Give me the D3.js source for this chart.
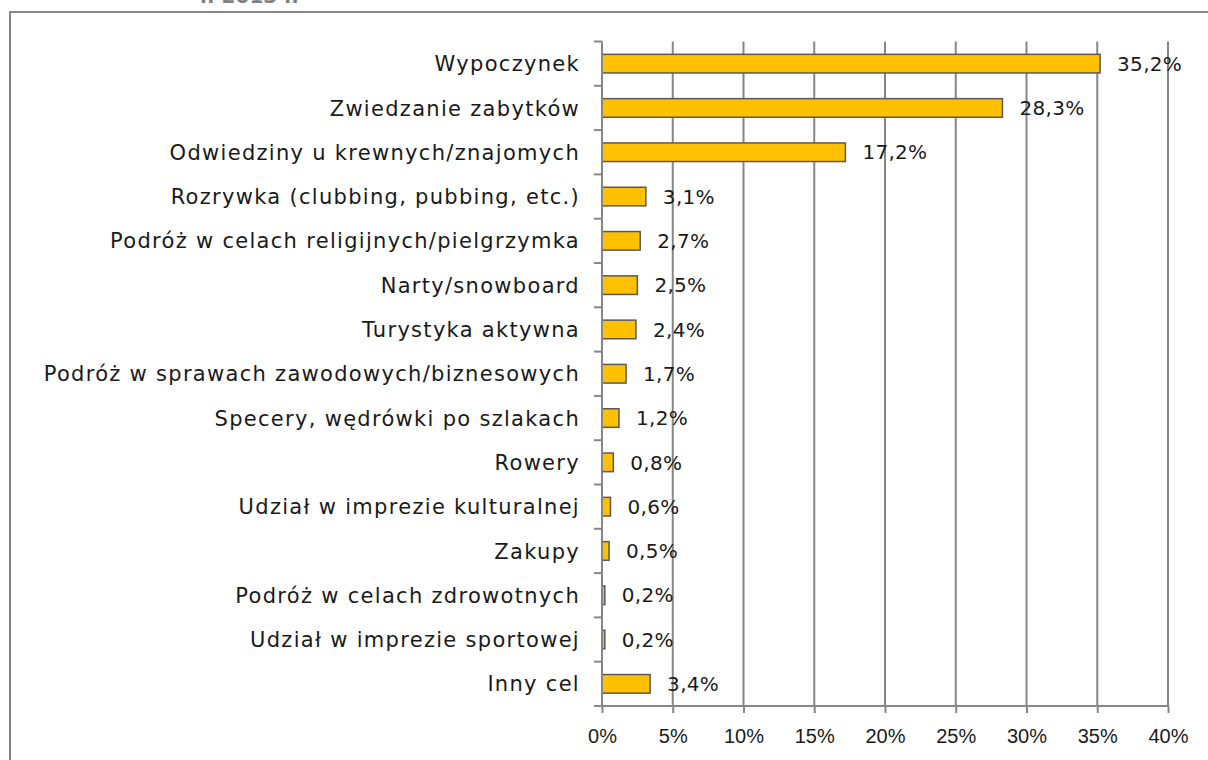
<!DOCTYPE html>
<html>
<head>
<meta charset="utf-8">
<script src="https://cdn.jsdelivr.net/npm/d3@7"></script>
<style>
    body { margin: 0; background: #fff; }
    svg { display: block; font-family: 'DejaVu Sans', sans-serif; }
    .axis path, .axis line { stroke: #868686; stroke-width: 2; }
    .axis text { fill: #1a1a1a; font-size: 20px; }
</style>
</head>
<body>
<div id="chart"></div>
<script>
// Cele przyjazdów — poziomy wykres słupkowy
const CATEGORIES = [
    'Wypoczynek',
    'Zwiedzanie zabytków',
    'Odwiedziny u krewnych/znajomych',
    'Rozrywka (clubbing, pubbing, etc.)',
    'Podróż w celach religijnych/pielgrzymka',
    'Narty/snowboard',
    'Turystyka aktywna',
    'Podróż w sprawach zawodowych/biznesowych',
    'Specery, wędrówki po szlakach',
    'Rowery',
    'Udział w imprezie kulturalnej',
    'Zakupy',
    'Podróż w celach zdrowotnych',
    'Udział w imprezie sportowej',
    'Inny cel'
];
const VALUES = [35.2, 28.3, 17.2, 3.1, 2.7, 2.5, 2.4, 1.7, 1.2, 0.8, 0.6, 0.5, 0.2, 0.2, 3.4];
const X_TICKS = [0, 5, 10, 15, 20, 25, 30, 35, 40];

(function () {
    const W = 1208, H = 760;
    const left = 602, right = 1168, top = 41.5, bottom = 706;

    const svg = d3.select('#chart').append('svg').attr('width', W).attr('height', H);

    // outer frame (cut by the picture edges)
    svg.append('rect').attr('x', 10).attr('y', 12).attr('width', W + 20).attr('height', H + 20)
        .attr('fill', 'none').attr('stroke', '#868686').attr('stroke-width', 2);

    // cut-off title above the frame
    svg.append('text').attr('x', 200).attr('y', 3).attr('font-size', 20).attr('font-weight', 'bold')
        .attr('fill', '#7f7f7f').text('r. 2013 r.');

    const x = d3.scaleLinear().domain([0, 40]).range([left, right]);
    const y = d3.scaleBand().domain(CATEGORIES).range([top, bottom]).paddingInner(0.58).paddingOuter(0.29);

    // vertical gridlines
    svg.append('g').selectAll('line').data(X_TICKS.slice(1)).enter().append('line')
        .attr('x1', d => x(d)).attr('x2', d => x(d))
        .attr('y1', top).attr('y2', bottom)
        .attr('stroke', '#868686').attr('stroke-width', 2);

    // bars
    const data = CATEGORIES.map((c, i) => ({ cat: c, val: VALUES[i] }));
    svg.append('g').selectAll('rect').data(data).enter().append('rect')
        .attr('x', x(0))
        .attr('y', d => y(d.cat))
        .attr('width', d => x(d.val) - x(0))
        .attr('height', y.bandwidth())
        .attr('fill', '#FFC000')
        .attr('stroke', '#595959')
        .attr('stroke-width', 1.5);

    // value labels
    svg.append('g').selectAll('text').data(data).enter().append('text')
        .attr('x', d => x(d.val) + 17)
        .attr('y', d => y(d.cat) + y.bandwidth() / 2)
        .attr('dy', '0.36em')
        .attr('font-size', 20)
        .attr('letter-spacing', 0.3)
        .attr('fill', '#1a1a1a')
        .text(d => d.val.toFixed(1).replace('.', ',') + '%');

    // x axis
    const xAxis = d3.axisBottom(x).tickValues(X_TICKS).tickSize(7).tickPadding(16)
        .tickFormat(d => d + '%');
    svg.append('g').attr('class', 'axis').attr('transform', `translate(0,${bottom})`).call(xAxis)
        .call(g => g.select('.domain').attr('d', `M${left - 8},0H${right}`));

    // y axis: ticks at category boundaries
    const bounds = d3.range(CATEGORIES.length + 1).map(i => top + i * (bottom - top) / CATEGORIES.length);
    const yAxisG = svg.append('g').attr('class', 'axis');
    yAxisG.append('line').attr('x1', left).attr('x2', left).attr('y1', top).attr('y2', bottom);
    yAxisG.selectAll('.tk').data(bounds).enter().append('line').attr('class', 'tk')
        .attr('x1', left - 8).attr('x2', left).attr('y1', d => d).attr('y2', d => d);
    yAxisG.selectAll('text').data(CATEGORIES).enter().append('text')
        .attr('x', left - 22)
        .attr('y', d => y(d) + y.bandwidth() / 2)
        .attr('dy', '0.36em')
        .attr('text-anchor', 'end')
        .style('font-size', '21px')
        .attr('letter-spacing', 1.3)
        .text(d => d);
})();
</script>
</body>
</html>
